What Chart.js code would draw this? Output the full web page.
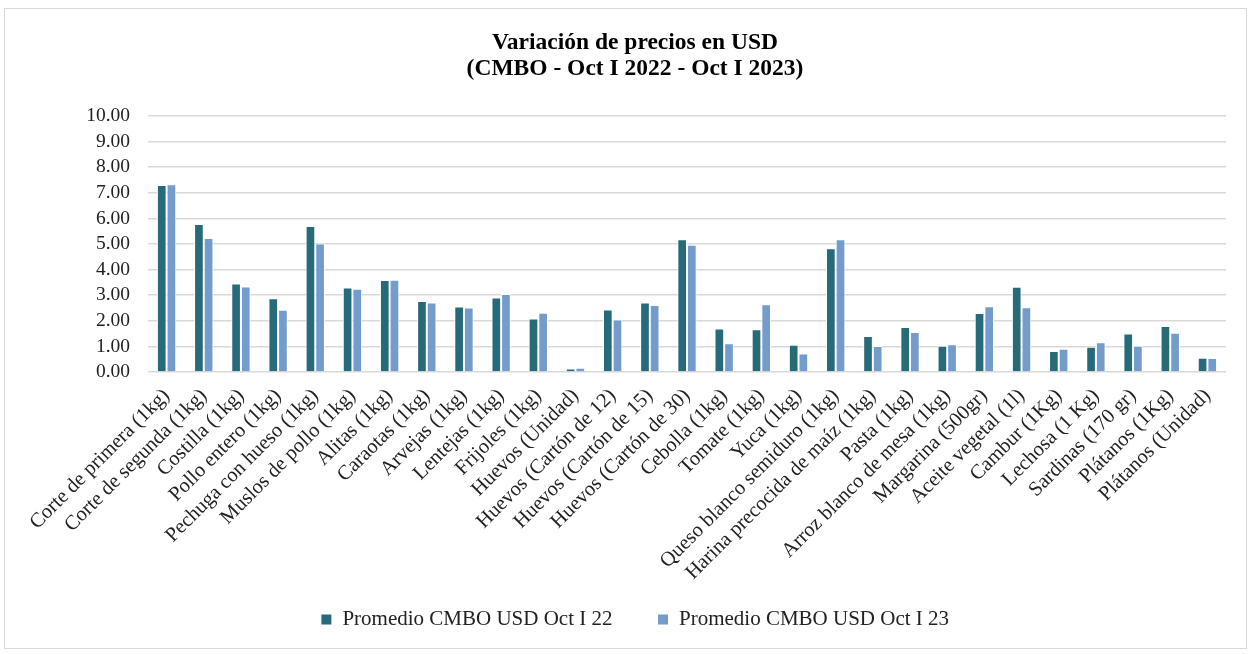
<!DOCTYPE html>
<html>
<head>
<meta charset="utf-8">
<script src="https://cdn.jsdelivr.net/npm/chart.js@4.4.0/dist/chart.umd.min.js"></script>
<style>
  html, body { margin: 0; padding: 0; background: #fff; }
  #wrap { position: relative; width: 1252px; height: 654px; }
</style>
</head>
<body>
<div id="wrap"><canvas id="price-chart" width="1252" height="654"></canvas></div>
<script>
const categories = [
  "Corte de primera (1kg)", "Corte de segunda (1kg)", "Costilla (1kg)", "Pollo entero (1kg)",
  "Pechuga con hueso (1kg)", "Muslos de pollo (1kg)", "Alitas (1kg)", "Caraotas (1kg)",
  "Arvejas (1kg)", "Lentejas (1kg)", "Frijoles (1kg)", "Huevos (Unidad)",
  "Huevos (Cartón de 12)", "Huevos (Cartón de 15)", "Huevos (Cartón de 30)", "Cebolla (1kg)",
  "Tomate (1kg)", "Yuca (1kg)", "Queso blanco semiduro (1kg)", "Harina precocida de maíz (1kg)",
  "Pasta (1kg)", "Arroz blanco de mesa (1kg)", "Margarina (500gr)", "Aceite vegetal (1l)",
  "Cambur (1Kg)", "Lechosa (1 Kg)", "Sardinas (170 gr)", "Plátanos (1Kg)", "Plátanos (Unidad)"
];
const oct22 = [
  7.30, 5.78, 3.46, 2.88, 5.70, 3.30, 3.59, 2.77, 2.56, 2.91, 2.09, 0.14, 2.44, 2.71, 5.19,
  1.70, 1.67, 1.06, 4.83, 1.41, 1.76, 1.03, 2.30, 3.33, 0.82, 0.99, 1.50, 1.80, 0.56
];
const oct23 = [
  7.33, 5.23, 3.34, 2.43, 5.02, 3.25, 3.60, 2.71, 2.52, 3.05, 2.31, 0.17, 2.05, 2.62, 4.97,
  1.12, 2.65, 0.72, 5.19, 1.02, 1.56, 1.08, 2.57, 2.53, 0.91, 1.16, 1.03, 1.53, 0.55
];
const seriesNames = ["Promedio CMBO USD Oct I 22", "Promedio CMBO USD Oct I 23"];
const titleLines = ["Variación de precios en USD", "(CMBO - Oct I 2022 - Oct I 2023)"];

const serif = "'Liberation Serif', 'Times New Roman', serif";

// marco gris alrededor del gráfico; las etiquetas largas del eje x
// pasan por debajo de la caja del eje, así que se amplía su recorte
const frame = {
  id: "frame",
  beforeDraw(chart) {
    chart.scales.x.bottom = chart.height;
    const ctx = chart.ctx;
    ctx.save();
    ctx.fillStyle = "#fff";
    ctx.fillRect(0, 0, chart.width, chart.height);
    ctx.strokeStyle = "#d9d9d9";
    ctx.lineWidth = 1;
    ctx.strokeRect(4.5, 8.5, 1242, 640);
    ctx.restore();
  }
};

new Chart(document.getElementById("price-chart"), {
  type: "bar",
  data: {
    labels: categories,
    datasets: [
      {
        label: seriesNames[0],
        data: oct22,
        backgroundColor: "#276a7a",
        borderColor: "#ffffff",
        borderWidth: 1,
        barPercentage: 1,
        categoryPercentage: 0.52,
      },
      {
        label: seriesNames[1],
        data: oct23,
        backgroundColor: "#739bcc",
        borderColor: "#ffffff",
        borderWidth: 1,
        barPercentage: 1,
        categoryPercentage: 0.52,
      },
    ],
  },
  options: {
    responsive: false,
    animation: false,
    layout: { padding: { top: 30, right: 26, bottom: 14, left: 44 } },
    plugins: {
      title: {
        display: true,
        text: titleLines,
        color: "#000",
        font: { family: serif, size: 23.5, weight: "bold", lineHeight: "26px" },
        padding: { top: 0, bottom: 34 },
      },
      legend: {
        position: "bottom",
        labels: {
          color: "#222",
          font: { family: serif, size: 21 },
          boxWidth: 11,
          boxHeight: 11,
          padding: 45,
        },
      },
      tooltip: { enabled: false },
    },
    scales: {
      x: {
        grid: { display: false, drawTicks: false },
        border: { display: false },
        ticks: {
          autoSkip: false,
          minRotation: 45,
          maxRotation: 45,
          padding: 12,
          color: "#222",
          font: { family: serif, size: 20.5 },
        },
        afterFit(scale) { scale.height = 192; },
      },
      y: {
        min: 0,
        max: 10,
        ticks: {
          stepSize: 1,
          autoSkip: false,
          padding: 18,
          color: "#222",
          font: { family: serif, size: 19.5 },
          callback: (v) => v.toFixed(2),
        },
        grid: { color: "#d9d9d9", lineWidth: 1.5, drawTicks: false },
        border: { display: false },
        afterFit(scale) { scale.width = 104; },
      },
    },
  },
  plugins: [frame],
});
</script>
</body>
</html>
